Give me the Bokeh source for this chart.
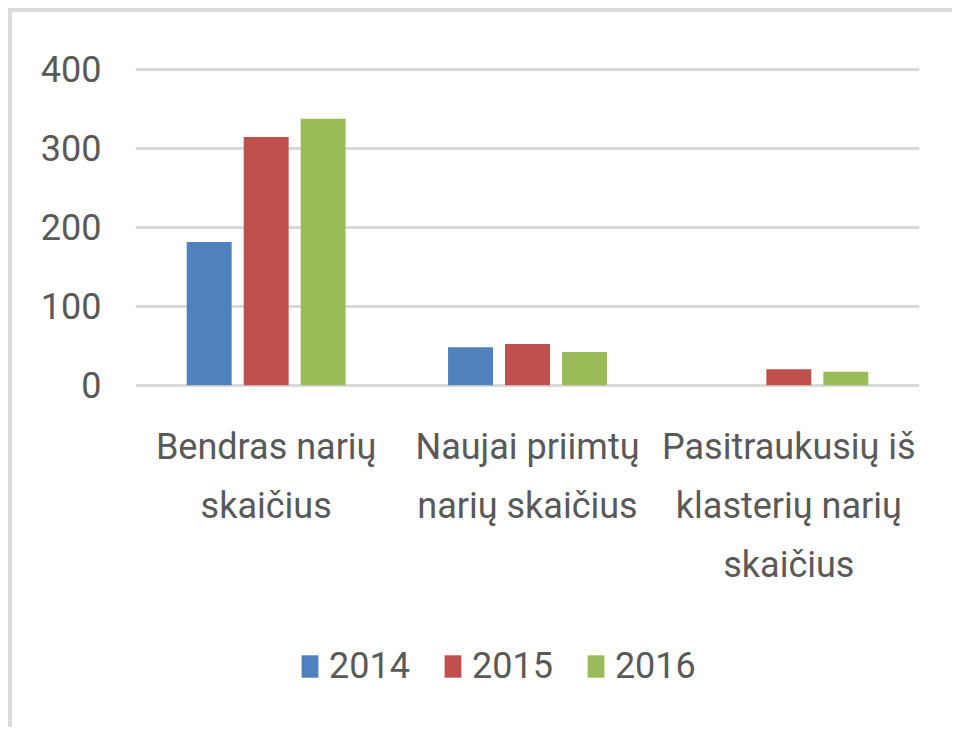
from bokeh.plotting import figure
from bokeh.models import (ColumnDataSource, FactorRange, Range1d, Legend, LegendItem,
                          FixedTicker)
from bokeh.core.properties import value
from bokeh.transform import dodge
from bokeh.embed import file_html
from bokeh.resources import INLINE

categories = ["Bendras narių\nskaičius",
              "Naujai priimtų\nnarių skaičius",
              "Pasitraukusių iš\nklasterių narių\nskaičius"]
years = ["2014", "2015", "2016"]
v2014 = [181, 48, 0]
v2015 = [314, 52, 20]
v2016 = [337, 42, 17]
y_ticks = [0, 100, 200, 300, 400]

colors = ["#4f81bd", "#c0504d", "#9bbb59"]
FONT = "Roboto"
TXT = "#595959"

src = ColumnDataSource(dict(cat=categories, y2014=v2014, y2015=v2015, y2016=v2016))

# frame extends below zero so the category labels and legend live inside it
p = figure(x_range=FactorRange(*categories), y_range=Range1d(-433.3, 402),
           frame_width=784, frame_height=660, output_backend="svg", toolbar_location=None,
           min_border_left=123, min_border_right=33, min_border_top=55,
           min_border_bottom=0)
p.styles = {"border-left": "4px solid #dadada", "border-top": "4px solid #dadada",
            "margin-left": "8px", "margin-top": "8px"}

renderers = []
for i, (yr, col) in enumerate(zip(years, colors)):
    r = p.vbar(x=dodge("cat", (i - 1) * 0.218, range=p.x_range), top="y" + yr,
               width=0.172, source=src, fill_color=col, line_color=None)
    renderers.append(r)

# category labels (drawn below the zero line, through the categorical scale)
label_y = -51.5
p.text(x="cat", y=label_y, text="cat", source=src, text_align="center",
       text_baseline="top", text_font=value(FONT), text_font_size="36px",
       text_color=TXT, text_line_height=1.41)

p.outline_line_color = None
p.xgrid.grid_line_color = None
p.ygrid.grid_line_color = "#d9d9d9"
p.ygrid.grid_line_width = 3
p.ygrid.ticker = FixedTicker(ticks=y_ticks)
p.yaxis.ticker = FixedTicker(ticks=y_ticks)
p.xaxis.visible = False

ax = p.yaxis[0]
ax.axis_line_color = None
ax.major_tick_line_color = None
ax.minor_tick_line_color = None
ax.major_label_text_font = FONT
ax.major_label_text_font_size = "36px"
ax.major_label_text_color = TXT
ax.major_label_standoff = 28

legend = Legend(items=[LegendItem(label=yr, renderers=[r]) for yr, r in zip(years, renderers)],
                orientation="horizontal", location=(164, 40),
                glyph_width=21, glyph_height=28, label_standoff=9, spacing=32,
                label_text_font=FONT, label_text_font_size="36px",
                label_text_color=TXT, border_line_color=None, padding=0, margin=0,
                background_fill_alpha=0)
p.add_layout(legend, "center")

open("out.html", "w").write(file_html(p, INLINE))
